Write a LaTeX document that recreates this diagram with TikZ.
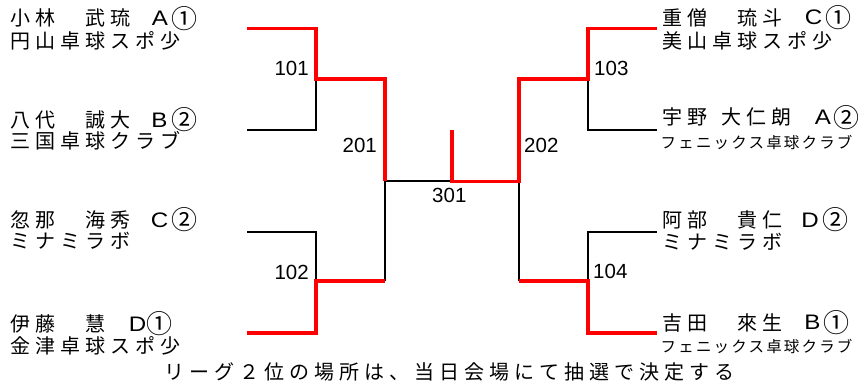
\documentclass[tikz,border=0pt]{standalone}
\usepackage{graphicx}
\usepackage{fontspec}
\newfontfamily\jp{Noto Sans CJK JP}[LetterSpace=25]
\newfontfamily\jps{Noto Sans CJK JP}[LetterSpace=14]
\newfontfamily\jpc{Noto Sans CJK JP}
\newfontfamily\numfont{Liberation Sans}
\newcommand{\wideletter}[1]{\scalebox{1.15}[1]{#1}}
\begin{document}
\begin{tikzpicture}[x=1pt,y=-1pt,
  wire/.style={black, line width=2pt, line join=miter},
  win/.style={red, line width=3.5pt, line join=miter},
  pname/.style={anchor=base west, inner sep=0pt, font=\jp\fontsize{20pt}{24pt}\selectfont},
  psmall/.style={anchor=base west, inner sep=0pt, font=\jps\fontsize{15.5pt}{18pt}\selectfont},
  grp/.style={anchor=center, inner sep=0pt, font=\numfont\fontsize{21pt}{24pt}\selectfont},
  rank/.style={anchor=center, inner sep=0pt, font=\jpc\fontsize{26pt}{30pt}\selectfont},
  mnum/.style={inner sep=0pt, font=\numfont\fontsize{20.5pt}{24pt}\selectfont}]
\useasboundingbox (0,0) rectangle (858,387);
% end points of the player lines
\coordinate (L1) at (247,28.5);
\coordinate (L2) at (247,130);
\coordinate (L3) at (247,232);
\coordinate (L4) at (247,333);
\coordinate (R1) at (657,28.5);
\coordinate (R2) at (657,130);
\coordinate (R3) at (657,232);
\coordinate (R4) at (657,333);
% match 101
\coordinate (a1) at (316,28.5);
\coordinate (m101) at (316,79);
\coordinate (a2) at (316,130);
% match 102
\coordinate (b1) at (316,232);
\coordinate (m102) at (316,281);
\coordinate (b2) at (316,333);
% match 201
\coordinate (c1) at (385,79);
\coordinate (m201) at (385,181.5);
\coordinate (c2) at (385,281);
% final
\coordinate (f) at (452,181.5);
\coordinate (ftop) at (452,130);
% match 202
\coordinate (d1) at (519,79);
\coordinate (m202) at (519,181.5);
\coordinate (d2) at (519,281);
% match 103
\coordinate (e1) at (588,28.5);
\coordinate (m103) at (588,79);
\coordinate (e2) at (588,130);
% match 104
\coordinate (g1) at (588,232);
\coordinate (m104) at (588,281);
\coordinate (g2) at (588,333);

% black lines
\draw[wire] (L2) -- (a2) -- (m101);
\draw[wire] (L3) -- (b1) -- (m102);
\draw[wire] (m201) -- (c2);
\draw[wire] (m201) -- (f);
\draw[wire] (R2) -- (e2) -- (m103);
\draw[wire] (R3) -- (g1) -- (m104);
\draw[wire] (m202) -- (d2);

% red (winner) lines
\draw[win] (L1) -- (a1) -- (m101) -- (c1) -- (m201);
\draw[win] (L4) -- (b2) -- (m102) -- (c2);
\draw[win] (ftop) -- (f) -- (m202) -- (d1) -- (m103) -- (e1) -- (R1);
\draw[win] (d2) -- (m104) -- (g2) -- (R4);

% match numbers
\node[mnum, anchor=base east] (n101) at (309,76) {101};
\node[mnum, anchor=base east] (n102) at (309,279) {102};
\node[mnum, anchor=base east] (n201) at (377,153) {201};
\node[mnum, anchor=base west] (n103) at (594,76) {103};
\node[mnum, anchor=base west] (n104) at (593,278) {104};
\node[mnum, anchor=base west] (n202) at (524,153) {202};
\node[mnum, anchor=base west] (n301) at (432,202.5) {301};

% left players
\node[pname] (p1) at (10,25.5) {小林　武琉};
\node[grp] (g1l) at (160,18.3) {\wideletter{A}};
\node[rank] (r1l) at (184,18.5) {①};
\node[pname] (t1) at (10,48.5) {円山卓球スポ少};
\node[pname] (p2) at (10,127.5) {八代　誠大};
\node[grp] (g2l) at (159.5,120) {\wideletter{B}};
\node[rank] (r2l) at (184,120) {②};
\node[pname] (t2) at (10,149) {三国卓球クラブ};
\node[pname] (p3) at (10,227.5) {忽那　海秀};
\node[grp] (g3l) at (159.5,220) {\wideletter{C}};
\node[rank] (r3l) at (184,220) {②};
\node[pname] (t3) at (10,248.5) {ミナミラボ};
\node[pname] (p4) at (10,331.5) {伊藤　慧};
\node[grp] (g4l) at (137.5,324) {\wideletter{D}};
\node[rank] (r4l) at (159.5,324) {①};
\node[pname] (t4) at (10,353.5) {金津卓球スポ少};

% right players
\node[pname] (p5) at (662,25.5) {重僧　琉斗};
\node[grp] (g5r) at (813.5,17.5) {\wideletter{C}};
\node[rank] (r5r) at (838,17.5) {①};
\node[pname] (t5) at (662,48.5) {美山卓球スポ少};
\node[pname] (p6) at (662,125) {宇野\hspace{14pt}大仁朗};
\node[grp] (g6r) at (823,117.5) {\wideletter{A}};
\node[rank] (r6r) at (846,117.5) {②};
\node[psmall] (t6) at (660.5,148.3) {フェニックス卓球クラブ};
\node[pname] (p7) at (662,227.5) {阿部　貴仁};
\node[grp] (g7r) at (810,220) {\wideletter{D}};
\node[rank] (r7r) at (835,220) {②};
\node[pname] (t7) at (662,249) {ミナミラボ};
\node[pname] (p8) at (662,330) {吉田　來生};
\node[grp] (g8r) at (812.5,322.5) {\wideletter{B}};
\node[rank] (r8r) at (836.5,322.5) {①};
\node[psmall] (t8) at (660.5,352.3) {フェニックス卓球クラブ};

% note
\node[pname] (note) at (164,379.5) {リーグ２位の場所は、当日会場にて抽選で決定する};
\end{tikzpicture}
\end{document}
